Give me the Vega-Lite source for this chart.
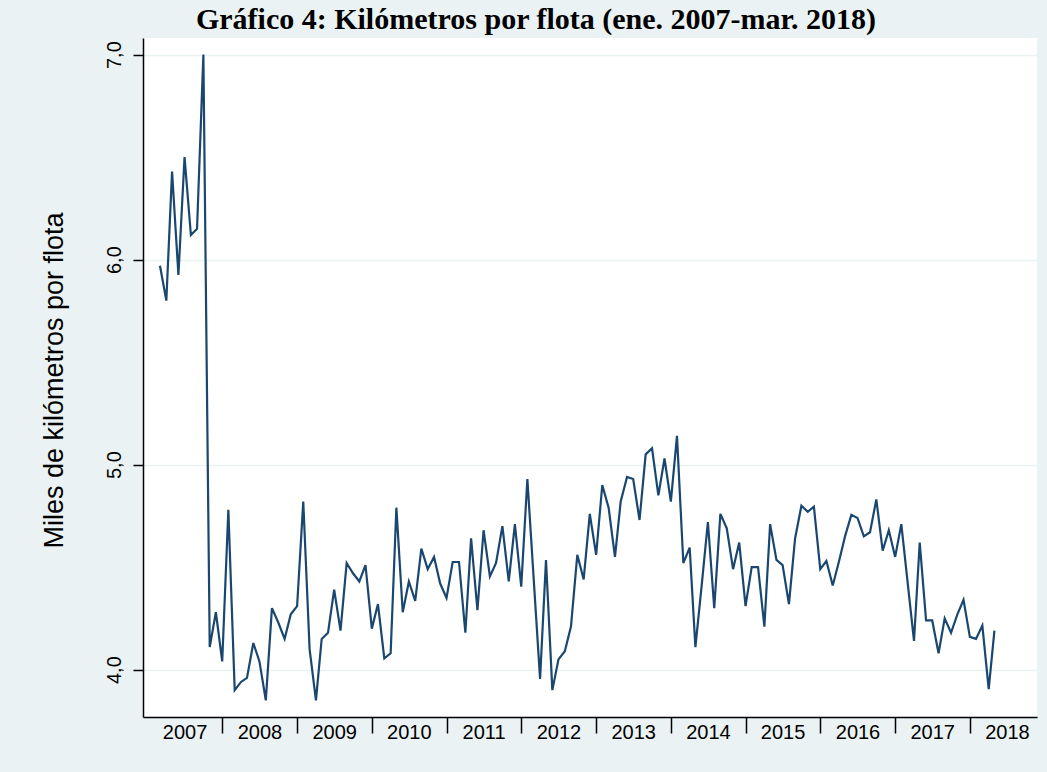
{
  "$schema": "https://vega.github.io/schema/vega-lite/v6.json",
  "autosize": {"type": "none"},
  "padding": {"left": 143, "top": 38, "right": 10, "bottom": 55},
  "width": 894,
  "height": 679,
  "background": "#EAF2F3",
  "view": {"fill": "white", "stroke": null},
  "title": {
    "text": "Gráfico 4: Kilómetros por flota (ene. 2007-mar. 2018)",
    "font": "Liberation Serif",
    "fontSize": 30,
    "fontWeight": "bold",
    "color": "black",
    "anchor": "middle",
    "baseline": "alphabetic",
    "offset": -21,
    "dx": -54
  },
  "config": {
    "font": "Liberation Sans",
    "axis": {"labelColor": "black", "titleColor": "black", "domainColor": "black", "tickColor": "black"}
  },
  "data": {
    "values": [
      {"date": "2007-01-01", "km": 5.97}, {"date": "2007-02-01", "km": 5.80}, {"date": "2007-03-01", "km": 6.43},
      {"date": "2007-04-01", "km": 5.925}, {"date": "2007-05-01", "km": 6.50}, {"date": "2007-06-01", "km": 6.12},
      {"date": "2007-07-01", "km": 6.15}, {"date": "2007-08-01", "km": 7.00}, {"date": "2007-09-01", "km": 4.11},
      {"date": "2007-10-01", "km": 4.28}, {"date": "2007-11-01", "km": 4.04}, {"date": "2007-12-01", "km": 4.78},
      {"date": "2008-01-01", "km": 3.90}, {"date": "2008-02-01", "km": 3.94}, {"date": "2008-03-01", "km": 3.96},
      {"date": "2008-04-01", "km": 4.13}, {"date": "2008-05-01", "km": 4.04}, {"date": "2008-06-01", "km": 3.85},
      {"date": "2008-07-01", "km": 4.30}, {"date": "2008-08-01", "km": 4.23}, {"date": "2008-09-01", "km": 4.15},
      {"date": "2008-10-01", "km": 4.27}, {"date": "2008-11-01", "km": 4.31}, {"date": "2008-12-01", "km": 4.82},
      {"date": "2009-01-01", "km": 4.10}, {"date": "2009-02-01", "km": 3.85}, {"date": "2009-03-01", "km": 4.15},
      {"date": "2009-04-01", "km": 4.18}, {"date": "2009-05-01", "km": 4.39}, {"date": "2009-06-01", "km": 4.19},
      {"date": "2009-07-01", "km": 4.52}, {"date": "2009-08-01", "km": 4.47}, {"date": "2009-09-01", "km": 4.43},
      {"date": "2009-10-01", "km": 4.51}, {"date": "2009-11-01", "km": 4.20}, {"date": "2009-12-01", "km": 4.32},
      {"date": "2010-01-01", "km": 4.055}, {"date": "2010-02-01", "km": 4.08}, {"date": "2010-03-01", "km": 4.79},
      {"date": "2010-04-01", "km": 4.28}, {"date": "2010-05-01", "km": 4.43}, {"date": "2010-06-01", "km": 4.335},
      {"date": "2010-07-01", "km": 4.59}, {"date": "2010-08-01", "km": 4.49}, {"date": "2010-09-01", "km": 4.55},
      {"date": "2010-10-01", "km": 4.42}, {"date": "2010-11-01", "km": 4.35}, {"date": "2010-12-01", "km": 4.525},
      {"date": "2011-01-01", "km": 4.525}, {"date": "2011-02-01", "km": 4.18}, {"date": "2011-03-01", "km": 4.64},
      {"date": "2011-04-01", "km": 4.29}, {"date": "2011-05-01", "km": 4.68}, {"date": "2011-06-01", "km": 4.455},
      {"date": "2011-07-01", "km": 4.52}, {"date": "2011-08-01", "km": 4.70}, {"date": "2011-09-01", "km": 4.43},
      {"date": "2011-10-01", "km": 4.71}, {"date": "2011-11-01", "km": 4.405}, {"date": "2011-12-01", "km": 4.93},
      {"date": "2012-01-01", "km": 4.44}, {"date": "2012-02-01", "km": 3.955}, {"date": "2012-03-01", "km": 4.535},
      {"date": "2012-04-01", "km": 3.90}, {"date": "2012-05-01", "km": 4.05}, {"date": "2012-06-01", "km": 4.09},
      {"date": "2012-07-01", "km": 4.21}, {"date": "2012-08-01", "km": 4.56}, {"date": "2012-09-01", "km": 4.44},
      {"date": "2012-10-01", "km": 4.76}, {"date": "2012-11-01", "km": 4.56}, {"date": "2012-12-01", "km": 4.90},
      {"date": "2013-01-01", "km": 4.79}, {"date": "2013-02-01", "km": 4.55}, {"date": "2013-03-01", "km": 4.82},
      {"date": "2013-04-01", "km": 4.94}, {"date": "2013-05-01", "km": 4.93}, {"date": "2013-06-01", "km": 4.73},
      {"date": "2013-07-01", "km": 5.05}, {"date": "2013-08-01", "km": 5.08}, {"date": "2013-09-01", "km": 4.85},
      {"date": "2013-10-01", "km": 5.03}, {"date": "2013-11-01", "km": 4.82}, {"date": "2013-12-01", "km": 5.14},
      {"date": "2014-01-01", "km": 4.52}, {"date": "2014-02-01", "km": 4.595}, {"date": "2014-03-01", "km": 4.11},
      {"date": "2014-04-01", "km": 4.415}, {"date": "2014-05-01", "km": 4.72}, {"date": "2014-06-01", "km": 4.30},
      {"date": "2014-07-01", "km": 4.76}, {"date": "2014-08-01", "km": 4.69}, {"date": "2014-09-01", "km": 4.49},
      {"date": "2014-10-01", "km": 4.62}, {"date": "2014-11-01", "km": 4.31}, {"date": "2014-12-01", "km": 4.50},
      {"date": "2015-01-01", "km": 4.50}, {"date": "2015-02-01", "km": 4.21}, {"date": "2015-03-01", "km": 4.71},
      {"date": "2015-04-01", "km": 4.535}, {"date": "2015-05-01", "km": 4.51}, {"date": "2015-06-01", "km": 4.32},
      {"date": "2015-07-01", "km": 4.64}, {"date": "2015-08-01", "km": 4.80}, {"date": "2015-09-01", "km": 4.77},
      {"date": "2015-10-01", "km": 4.795}, {"date": "2015-11-01", "km": 4.49}, {"date": "2015-12-01", "km": 4.53},
      {"date": "2016-01-01", "km": 4.41}, {"date": "2016-02-01", "km": 4.53}, {"date": "2016-03-01", "km": 4.65},
      {"date": "2016-04-01", "km": 4.755}, {"date": "2016-05-01", "km": 4.74}, {"date": "2016-06-01", "km": 4.65},
      {"date": "2016-07-01", "km": 4.67}, {"date": "2016-08-01", "km": 4.83}, {"date": "2016-09-01", "km": 4.58},
      {"date": "2016-10-01", "km": 4.68}, {"date": "2016-11-01", "km": 4.55}, {"date": "2016-12-01", "km": 4.71},
      {"date": "2017-01-01", "km": 4.425}, {"date": "2017-02-01", "km": 4.14}, {"date": "2017-03-01", "km": 4.62},
      {"date": "2017-04-01", "km": 4.24}, {"date": "2017-05-01", "km": 4.24}, {"date": "2017-06-01", "km": 4.08},
      {"date": "2017-07-01", "km": 4.25}, {"date": "2017-08-01", "km": 4.18}, {"date": "2017-09-01", "km": 4.27},
      {"date": "2017-10-01", "km": 4.34}, {"date": "2017-11-01", "km": 4.16}, {"date": "2017-12-01", "km": 4.15},
      {"date": "2018-01-01", "km": 4.215}, {"date": "2018-02-01", "km": 3.905}, {"date": "2018-03-01", "km": 4.19}
    ]
  },
  "mark": {"type": "line", "color": "#1A476F", "strokeWidth": 2.2},
  "encoding": {
    "x": {
      "field": "date",
      "type": "temporal",
      "scale": {
        "type": "utc",
        "domain": [
          {"year": 2006, "month": 10, "date": 10, "utc": true},
          {"year": 2018, "month": 9, "date": 25, "utc": true}
        ],
        "nice": false
      },
      "axis": {
        "title": null,
        "grid": false,
        "values": [
          {"year": 2007, "month": 5, "date": 1, "utc": true}, {"year": 2007, "month": 11, "date": 1, "utc": true},
          {"year": 2008, "month": 5, "date": 1, "utc": true}, {"year": 2008, "month": 11, "date": 1, "utc": true},
          {"year": 2009, "month": 5, "date": 1, "utc": true}, {"year": 2009, "month": 11, "date": 1, "utc": true},
          {"year": 2010, "month": 5, "date": 1, "utc": true}, {"year": 2010, "month": 11, "date": 1, "utc": true},
          {"year": 2011, "month": 5, "date": 1, "utc": true}, {"year": 2011, "month": 11, "date": 1, "utc": true},
          {"year": 2012, "month": 5, "date": 1, "utc": true}, {"year": 2012, "month": 11, "date": 1, "utc": true},
          {"year": 2013, "month": 5, "date": 1, "utc": true}, {"year": 2013, "month": 11, "date": 1, "utc": true},
          {"year": 2014, "month": 5, "date": 1, "utc": true}, {"year": 2014, "month": 11, "date": 1, "utc": true},
          {"year": 2015, "month": 5, "date": 1, "utc": true}, {"year": 2015, "month": 11, "date": 1, "utc": true},
          {"year": 2016, "month": 5, "date": 1, "utc": true}, {"year": 2016, "month": 11, "date": 1, "utc": true},
          {"year": 2017, "month": 5, "date": 1, "utc": true}, {"year": 2017, "month": 11, "date": 1, "utc": true},
          {"year": 2018, "month": 5, "date": 1, "utc": true}
        ],
        "labelExpr": "utcmonth(datum.value) == 4 ? utcFormat(datum.value, '%Y') : ''",
        "labelOverlap": false,
        "labelFlush": false,
        "labelFontSize": 20,
        "labelPadding": -11,
        "tickSize": 16,
        "tickWidth": 1.5,
        "tickOpacity": {"condition": {"test": "utcmonth(datum.value) == 10", "value": 1}, "value": 0},
        "domainWidth": 1.5
      }
    },
    "y": {
      "field": "km",
      "type": "quantitative",
      "scale": {"domain": [3.769, 7.081], "nice": false, "zero": false},
      "axis": {
        "title": "Miles de kilómetros por flota",
        "titleFontSize": 27,
        "titleFontWeight": "normal",
        "titleAngle": -90,
        "titleAlign": "center",
        "titleBaseline": "alphabetic",
        "titleX": -81,
        "titleY": 342,
        "values": [4, 5, 6, 7],
        "labelExpr": "replace(format(datum.value, '.1f'), '.', ',')",
        "labelFontSize": 20,
        "labelAngle": -90,
        "labelAlign": "center",
        "labelBaseline": "alphabetic",
        "labelPadding": 13,
        "tickSize": 10,
        "tickWidth": 1.5,
        "domainWidth": 1.5,
        "grid": true,
        "gridColor": "#EAF2F3",
        "gridWidth": 1.6
      }
    }
  }
}
